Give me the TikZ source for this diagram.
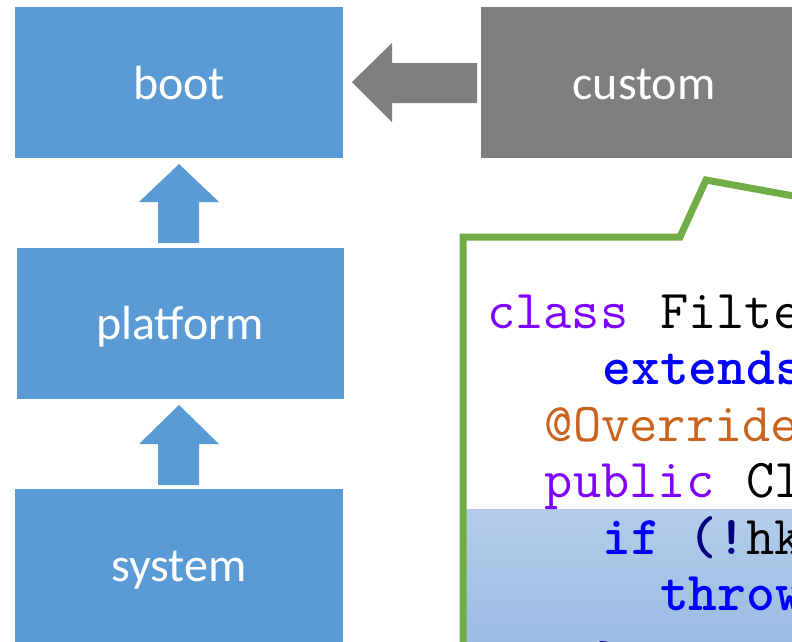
\documentclass[tikz,border=0pt]{standalone}
\usepackage{fontspec}
\setmainfont{Carlito}
\definecolor{boxblue}{HTML}{5B9BD5}
\definecolor{boxgray}{HTML}{7F7F7F}
\definecolor{callgreen}{HTML}{70AD47}
\definecolor{kwpurple}{HTML}{8000FF}
\definecolor{kwblue}{HTML}{0000FF}
\definecolor{annot}{HTML}{C8641E}
\definecolor{navy}{HTML}{000080}
\definecolor{bandtop}{HTML}{B3CDEA}
\definecolor{bandbot}{HTML}{9CBCE3}
\begin{document}
\begin{tikzpicture}[x=1pt,y=-1pt,
  label/.style={anchor=base,inner sep=0pt,text=white,
    font=\fontsize{48}{56}\selectfont},
  code/.style={anchor=base west,inner sep=0pt,
    font=\ttfamily\fontsize{54.86}{60}\selectfont},
  kw/.style={code,text=kwpurple},
  kwb/.style={code,text=kwblue,font=\ttfamily\bfseries\fontsize{54.86}{60}\selectfont},
  punct/.style={code,text=navy,font=\ttfamily\bfseries\fontsize{54.86}{60}\selectfont},
  plain/.style={code,text=black}]
\useasboundingbox (0,0) rectangle (792,641);
\begin{scope}
\clip (0,0) rectangle (792,641);

% module boxes
\fill[boxblue] (15,7) rectangle (343,158);
\node[label] (boot) at (179,99) {boot};
\fill[boxgray] (481,7) rectangle (800,158);
\node[label] (custom) at (644,99) {custom};
\fill[boxblue] (17,248) rectangle (344,399);
\node[label] (platform) at (180,339) {platform};
\fill[boxblue] (15,489) rectangle (343,650);
\node[label] (system) at (179,581) {system};

% block arrows
\fill[boxgray] (352,82) -- (392,43) -- (392,63) -- (477,63) -- (477,103)
  -- (392,103) -- (392,122) -- cycle;
\fill[boxblue] (179,164) -- (219,202) -- (199,202) -- (199,243) -- (158,243)
  -- (158,202) -- (139,202) -- cycle;
\fill[boxblue] (179,405) -- (219,444) -- (199,444) -- (199,485) -- (158,485)
  -- (158,444) -- (139,444) -- cycle;

% highlighted code lines
\shade[top color=bandtop,bottom color=bandbot] (466,509) rectangle (800,645);

% code listing
\node[kw] (l1a) at (487,328) {class};
\node[plain] (l1b) at (659.8,328) {Filter};
\node[kwb] (l2) at (602.2,384.5) {extends};
\node[code,text=annot] (l3) at (544.6,441) {@Override};
\node[kw] (l4a) at (544.6,497.5) {public};
\node[plain] (l4b) at (746.2,497.5) {Cl};
\node[kwb] (l5a) at (602.2,554) {if};
\node[punct] (l5b) at (688.6,554) {(!};
\node[plain] (l5c) at (746.2,554) {hkm};
\node[kwb] (l6) at (659.8,610.5) {throw};
\node[punct] (l7) at (596,679) {\}};

% callout outline
\draw[callgreen,line width=7pt,line join=miter]
  (463,650) -- (463,237) -- (680,237) -- (706,180) -- (810,199);
\end{scope}
\end{tikzpicture}
\end{document}
